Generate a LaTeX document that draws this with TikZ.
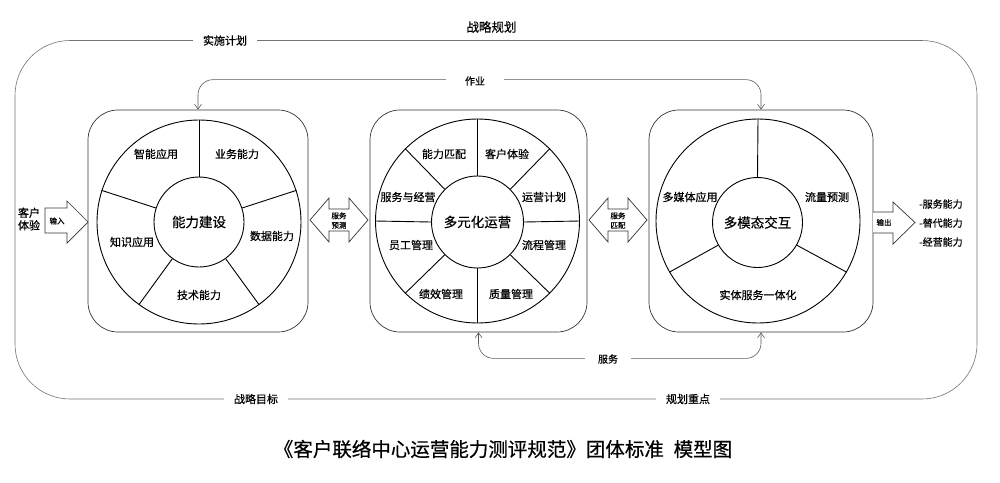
\documentclass[tikz,border=0pt]{standalone}
\usepackage{fontspec}
\setmainfont{Noto Sans CJK SC}[FakeBold=0.5]
\usetikzlibrary{arrows.meta}
\begin{document}
\begin{tikzpicture}[x=1pt,y=-1pt,
  frame/.style={draw=black!55, line width=0.6pt, rounded corners=55pt, inner sep=0pt},
  box/.style={draw=black!80, line width=0.7pt, rounded corners=30pt, minimum height=222pt, inner sep=0pt},
  ring/.style={circle, draw=black, line width=0.9pt, inner sep=0pt},
  seg/.style={draw=black, line width=0.9pt},
  lbl/.style={font=\fontsize{11}{13}\selectfont, inner sep=1pt},
  ctr/.style={font=\fontsize{13.5}{15}\selectfont},
  tinytxt/.style={font=\fontsize{7.5}{9.5}\selectfont, align=center, inner sep=0pt},
  gaplbl/.style={fill=white, font=\fontsize{11}{13}\selectfont, inner ysep=2pt},
  conn/.style={draw=black!65, line width=0.6pt, rounded corners=15pt},
  blk/.style={draw=black!80, line width=0.7pt, fill=white, line join=miter},
  tip/.tip={Straight Barb[length=5pt,width=7pt]}
]
\useasboundingbox (0,0) rectangle (1000,482);

% outer frame
\node[frame, minimum width=962pt, minimum height=358.5pt] (outer) at (496,219.75) {};

% boxes
\node[box, minimum width=220pt] (b1) at (198,221) {};
\node[box, minimum width=217pt] (b2) at (478.5,221) {};
\node[box, minimum width=224pt] (b3) at (761,221) {};

% connectors
\draw[conn, tip-tip] (b1.north) -- ++(0,-30) -| (b3.north);
\draw[conn, tip-tip] (b2.south) -- ++(0,26) -| (b3.south);

% ring 1
\node[ring, minimum size=204pt] (o1) at (199,222) {};
\node[ring, minimum size=90pt, ctr] (c1) at (199,222) {能力建设};
\foreach \a in {90,18,-54,-126,162} \draw[seg] (c1.\a) -- (o1.\a);
\node[lbl] (l11) at (156,154) {智能应用};
\node[lbl] (l12) at (237,154) {业务能力};
\node[lbl] (l13) at (272,236) {数据能力};
\node[lbl] (l14) at (199,295) {技术能力};
\node[lbl] (l15) at (132,242) {知识应用};

% ring 2
\node[ring, minimum size=204pt] (o2) at (477.5,221) {};
\node[ring, minimum size=92pt, ctr] (c2) at (477.5,222) {多元化运营};
\foreach \a in {90,45,0,-45,-90,-135,180,135} \draw[seg] (c2.\a) -- (o2.\a);
\node[lbl] (l21) at (444,154) {能力匹配};
\node[lbl] (l22) at (507,154) {客户体验};
\node[lbl] (l23) at (544,197) {运营计划};
\node[lbl] (l24) at (544,245) {流程管理};
\node[lbl] (l25) at (511,294) {质量管理};
\node[lbl] (l26) at (441,294) {绩效管理};
\node[lbl] (l27) at (411,245) {员工管理};
\node[lbl] (l28) at (408,197) {服务与经营};

% ring 3
\node[ring, minimum size=204pt] (o3) at (758,221) {};
\node[ring, minimum size=90pt, ctr] (c3) at (757.5,222.5) {多模态交互};
\foreach \a in {90,-30,210} \draw[seg] (c3.\a) -- (o3.\a);
\node[lbl] (l31) at (690,197) {多媒体应用};
\node[lbl] (l32) at (827,197) {流量预测};
\node[lbl] (l33) at (758,295) {实体服务一体化};

% input arrow
\draw[blk] (45,208) -- (67,208) -- (67,201) -- (88,222) -- (67,243) -- (67,233) -- (45,233) -- cycle;
\node[tinytxt] (inp) at (57,221) {输入};
\node[font=\fontsize{11}{12.5}\selectfont, align=center, inner sep=0pt] (cx) at (29,219) {客户\\体验};

% double arrows
\draw[blk] (310,220) -- (329,198) -- (329,209) -- (349,209) -- (349,198) -- (368,220) -- (349,242) -- (349,231) -- (329,231) -- (329,242) -- cycle;
\node[tinytxt] (da1) at (339,220.5) {服务\\预测};
\draw[blk] (589,220) -- (608,198) -- (608,209) -- (628,209) -- (628,198) -- (647,220) -- (628,242) -- (628,231) -- (608,231) -- (608,242) -- cycle;
\node[tinytxt] (da2) at (618,220.5) {服务\\匹配};

% output arrow
\draw[blk] (873,212) -- (893,212) -- (893,202) -- (915,222.5) -- (893,244) -- (893,233) -- (873,233);
\node[tinytxt] (outp) at (884,222.5) {输出};
\node[font=\fontsize{10}{19}\selectfont, align=left, anchor=west, inner sep=0pt] (outl) at (919,223) {-服务能力\\-替代能力\\-经营能力};

% labels on lines
\node[font=\fontsize{12.5}{14}\selectfont] (t0) at (491.5,27) {战略规划};
\node[gaplbl, inner xsep=10pt] (t1) at (225,40.5) {实施计划};
\node[gaplbl, inner xsep=10pt] (t2) at (256,399) {战略目标};
\node[gaplbl, inner xsep=10pt] (t3) at (688,399) {规划重点};
\node[gaplbl, font=\fontsize{10}{12}\selectfont, inner xsep=19pt] (t4) at (475,81) {作业};
\node[gaplbl, font=\fontsize{10}{12}\selectfont, inner xsep=13pt] (t5) at (608,359) {服务};

% title
\node[font=\fontsize{19.5}{22}\selectfont] (title) at (503,449) {《客户联络中心运营能力测评规范》团体标准\hspace{0.5em}模型图};
\end{tikzpicture}
\end{document}
